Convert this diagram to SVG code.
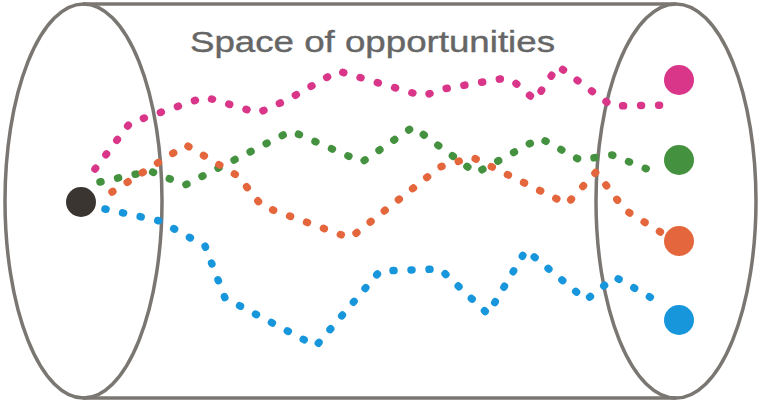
<svg xmlns="http://www.w3.org/2000/svg" width="768" height="418" viewBox="0 0 768 418">
  <style>
    .rim { fill: none; stroke: #7a7672; stroke-width: 3.5; }
    .path { fill: none; stroke-width: 7.5; stroke-linecap: round; stroke-linejoin: round; stroke-dasharray: 1 17; }
    .title { font-family: "Liberation Sans", Arial, sans-serif; font-size: 30px; fill: #666666; stroke: #666666; stroke-width: 0.4; }
  </style>
  <rect width="768" height="418" fill="#ffffff"/>
  <g id="cylinder">
    <line class="rim" x1="83" y1="4" x2="676" y2="4"/>
    <line class="rim" x1="83" y1="398" x2="676" y2="398"/>
    <ellipse class="rim" cx="83.5" cy="201" rx="78.5" ry="197"/>
    <ellipse class="rim" cx="676" cy="201" rx="80" ry="197"/>
  </g>
  <g id="title">
    <text class="title" x="190" y="52" textLength="365" lengthAdjust="spacingAndGlyphs">Space of opportunities</text>
  </g>
  <g id="connectors">
    <path class="path" stroke="#d9368a" d="M95,169 L130,123 L205,97 L258,113 L287,100 L338,71 L423,96 L443,89 L500,79 L512,80 L535,100 L558,66 L612,106 L676,105"/>
    <path class="path" stroke="#44913f" d="M100,182 L150,171 L185,185 L291,131 L362,162 L413,127 L476,173 L540,138 L580,160 L612,155 L652,171"/>
    <path class="path" stroke="#e4663c" d="M112,192 L186,145 L238,176 L262,206 L350,238 L440,167 L472,157 L567,204 L596,172 L625,210 L662,233"/>
    <path class="path" stroke="#1896dc" d="M105,209 L160,221 L205,246 L225,298 L316,346 L380,271 L440,269 L488,314 L526,250 L586,300 L615,277 L662,304"/>
  </g>
  <g id="start">
    <circle cx="81" cy="202" r="15" fill="#3b3532"/>
  </g>
  <g id="end-pink">
    <circle cx="679" cy="80" r="15" fill="#d9368a"/>
  </g>
  <g id="end-green">
    <circle cx="679" cy="160" r="15" fill="#44913f"/>
  </g>
  <g id="end-orange">
    <circle cx="679" cy="241" r="15" fill="#e4663c"/>
  </g>
  <g id="end-blue">
    <circle cx="679" cy="320" r="15" fill="#1896dc"/>
  </g>
</svg>
